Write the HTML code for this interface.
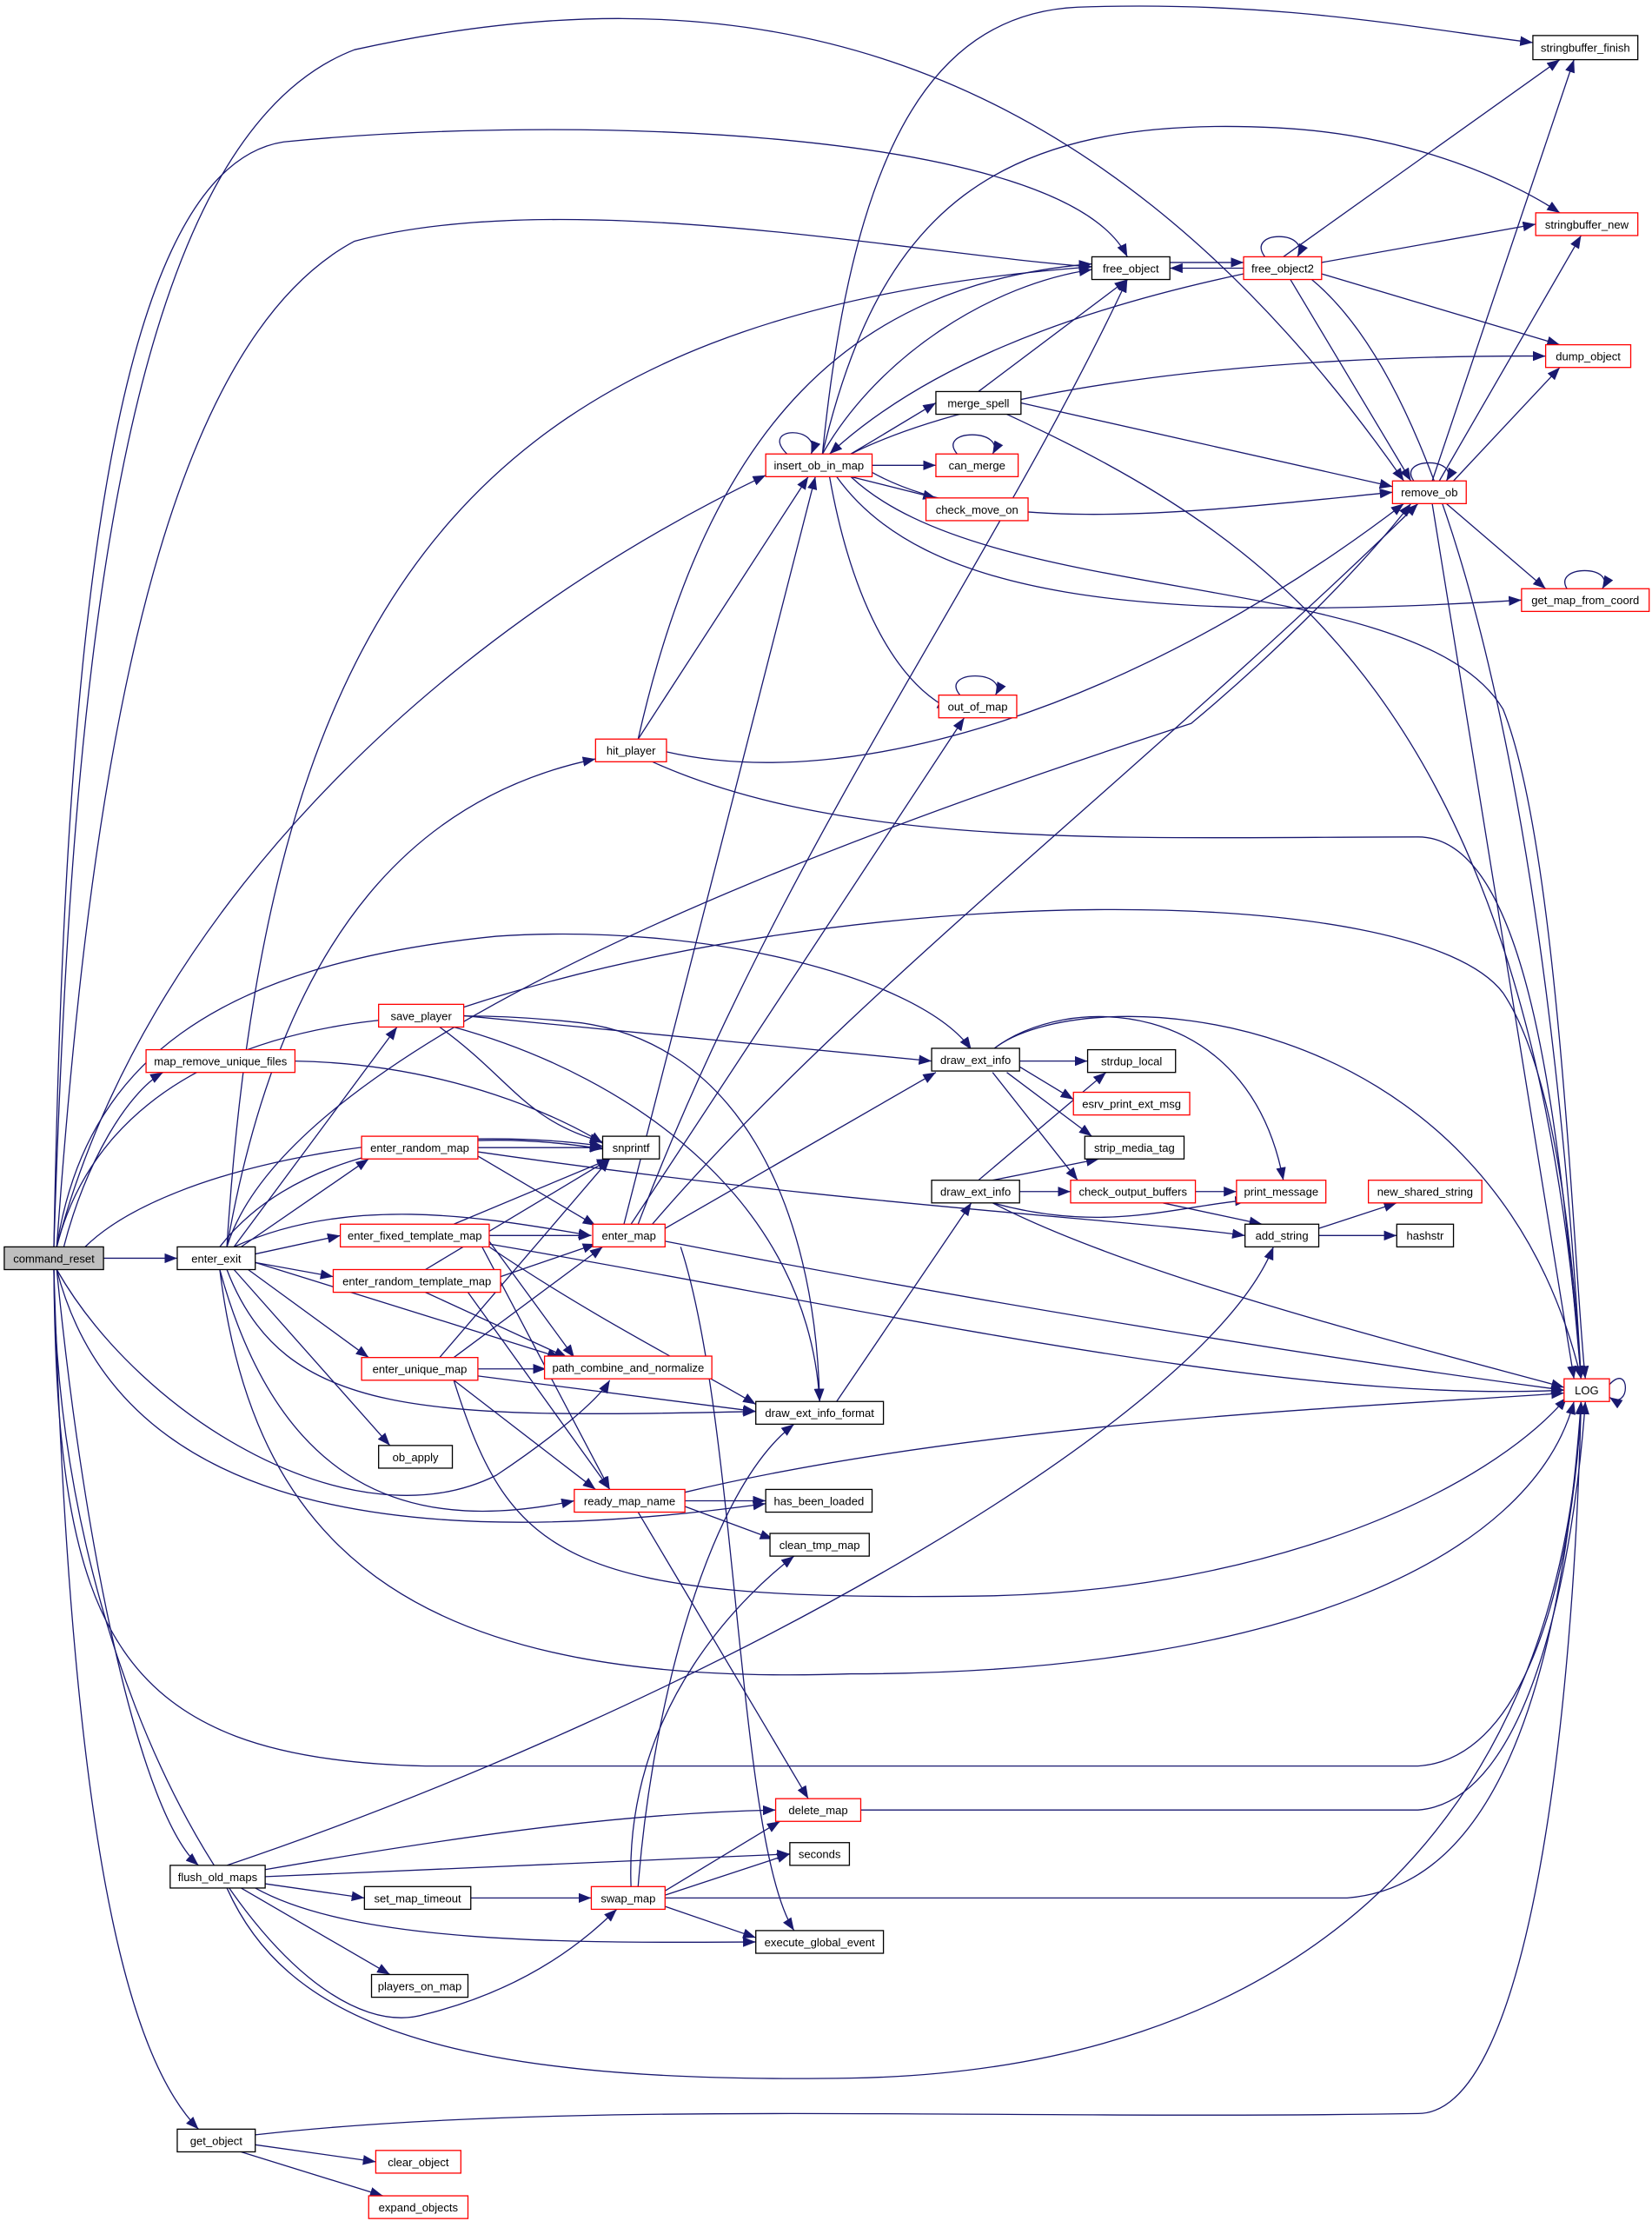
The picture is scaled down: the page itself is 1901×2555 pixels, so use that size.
<!DOCTYPE html>
<html><head><meta charset="utf-8"><style>
html,body{margin:0;padding:0;background:#fff;}
svg{display:block;}
text{font-family:"Liberation Sans",sans-serif;font-size:8px;fill:#000;text-anchor:middle;}
.e{fill:none;stroke:#191970;stroke-width:0.8;marker-end:url(#a);}
.n{fill:#fff;stroke:#000;stroke-width:0.8;}
.r{fill:#fff;stroke:#ff0000;stroke-width:0.8;}
</style></head><body>
<svg width="1901" height="2555" viewBox="0 0 1165 1565.7" xmlns="http://www.w3.org/2000/svg">
<defs><marker id="a" markerUnits="userSpaceOnUse" markerWidth="9" markerHeight="7" refX="9" refY="3.5" orient="auto"><path d="M0,0 L9,3.5 L0,7 z" fill="#191970"/></marker></defs>
<g>
<path class="e" d="M73,887 L125,887"/>
<path class="e" d="M45,879 C60,820 90,770 115,756"/>
<path class="e" d="M38,879 C50,500 80,100 250,35 C500,-20 760,10 990,339"/>
<path class="e" d="M38,879 C45,500 70,120 200,100 C400,80 750,90 795,181"/>
<path class="e" d="M40,879 C60,600 100,250 250,170 C400,130 650,180 770,188"/>
<path class="e" d="M40,879 C100,650 300,450 540,335"/>
<path class="e" d="M40,879 C60,750 150,680 350,660 C500,650 650,690 685,740"/>
<path class="e" d="M40,879 C70,760 200,700 400,720 C520,730 575,850 578,988"/>
<path class="e" d="M60,879 C120,820 300,790 425,808"/>
<path class="e" d="M40,895 C100,1000 250,1090 350,1040 C380,1020 420,990 430,973"/>
<path class="e" d="M40,895 C80,1050 250,1100 540,1060"/>
<path class="e" d="M38,895 C40,1150 80,1240 300,1245 L1000,1245 C1080,1240 1110,1100 1115,988"/>
<path class="e" d="M40,895 C60,1100 100,1280 140,1315"/>
<path class="e" d="M38,895 C40,1200 200,1450 300,1420 C380,1400 420,1360 435,1346"/>
<path class="e" d="M38,895 C50,1300 90,1450 140,1501"/>

<path class="e" d="M160,879 C200,650 300,560 420,535"/>
<path class="e" d="M160,879 C190,400 350,220 770,188"/>
<path class="e" d="M160,879 C200,750 500,620 840,510 C900,460 960,400 995,355"/>
<path class="e" d="M165,879 L280,724"/>
<path class="e" d="M155,879 C200,820 300,790 425,810"/>
<path class="e" d="M170,879 L260,817"/>
<path class="e" d="M180,884 L240,871"/>
<path class="e" d="M180,890 L235,900"/>
<path class="e" d="M165,879 C250,840 350,860 417,871"/>
<path class="e" d="M175,895 L260,957"/>
<path class="e" d="M180,890 L395,957"/>
<path class="e" d="M165,895 L275,1019"/>
<path class="e" d="M160,895 C200,1000 300,1000 533,995"/>
<path class="e" d="M155,895 C200,1060 300,1080 405,1058"/>
<path class="e" d="M155,895 C180,1100 300,1190 600,1180 C900,1180 1080,1100 1110,988"/>

<path class="e" d="M208,748 C320,750 400,790 425,806"/>

<path class="e" d="M450,521 L570,336"/>
<path class="e" d="M450,521 C500,300 600,200 770,186"/>
<path class="e" d="M470,530 C600,560 800,500 990,355"/>
<path class="e" d="M460,537 C600,600 800,590 1000,590 C1080,590 1100,800 1115,972"/>

<path class="e" d="M327,716 L657,748"/>
<path class="e" d="M310,724 C360,760 370,790 425,805"/>
<path class="e" d="M327,710 C600,620 1000,620 1060,700 C1100,760 1110,900 1115,972"/>
<path class="e" d="M320,724 C450,760 570,850 578,988"/>

<path class="e" d="M337,809 L425,809"/>
<path class="e" d="M337,815 L420,864"/>
<path class="e" d="M337,812 C600,850 800,860 878,871"/>

<path class="e" d="M320,863 L430,817"/>
<path class="e" d="M345,871 L417,871"/>
<path class="e" d="M345,875 L405,957"/>
<path class="e" d="M340,879 L430,1050"/>
<path class="e" d="M345,879 C420,930 500,970 533,990"/>
<path class="e" d="M345,877 C600,920 900,990 1103,980"/>

<path class="e" d="M353,900 L420,877"/>
<path class="e" d="M300,911 L400,957"/>
<path class="e" d="M330,911 L430,1050"/>
<path class="e" d="M300,895 L430,817"/>

<path class="e" d="M310,957 L430,817"/>
<path class="e" d="M320,957 L425,879"/>
<path class="e" d="M337,965 L385,965"/>
<path class="e" d="M337,970 L533,995"/>
<path class="e" d="M320,973 L420,1050"/>
<path class="e" d="M320,973 C360,1100 400,1130 700,1125 C900,1120 1050,1050 1105,985"/>

<path class="e" d="M440,863 L575,336"/>
<path class="e" d="M450,863 C550,600 700,400 795,197"/>
<path class="e" d="M460,863 C600,700 800,550 1000,355"/>
<path class="e" d="M445,863 L680,506"/>
<path class="e" d="M469,866 L660,756"/>
<path class="e" d="M469,875 C700,920 950,960 1103,980"/>
<path class="e" d="M480,879 C520,1000 520,1300 560,1361"/>

<path class="e" d="M483,1058 L540,1058"/>
<path class="e" d="M483,1062 L545,1085"/>
<path class="e" d="M450,1066 L570,1268"/>
<path class="e" d="M483,1052 C700,1000 1000,990 1103,982"/>

<path class="e" d="M590,988 L685,848"/>

<path class="e" d="M160,1315 C500,1200 850,1000 898,879"/>
<path class="e" d="M187,1318 C350,1290 450,1278 547,1276"/>
<path class="e" d="M187,1323 L557,1307"/>
<path class="e" d="M187,1328 L257,1338"/>
<path class="e" d="M180,1331 C250,1370 400,1370 533,1369"/>
<path class="e" d="M170,1331 L275,1392"/>
<path class="e" d="M160,1331 C200,1420 300,1470 600,1465 C900,1460 1100,1300 1115,988"/>

<path class="e" d="M332,1338 L417,1338"/>
<path class="e" d="M469,1333 L550,1284"/>
<path class="e" d="M469,1336 L557,1307"/>
<path class="e" d="M469,1344 L533,1366"/>
<path class="e" d="M469,1338 L950,1338 C1050,1330 1100,1200 1115,988"/>
<path class="e" d="M450,1330 C460,1200 500,1050 560,1004"/>
<path class="e" d="M445,1330 C440,1200 530,1120 560,1097"/>

<path class="e" d="M180,1505 C400,1480 700,1495 1000,1490 C1080,1490 1110,1200 1115,988"/>
<path class="e" d="M180,1512 L265,1524"/>
<path class="e" d="M170,1517 L270,1548"/>

<path class="e" d="M555,320 C535,300 580,300 572,320"/>
<path class="e" d="M600,320 L660,284"/>
<path class="e" d="M615,328 L660,328"/>
<path class="e" d="M600,336 L660,351"/>
<path class="e" d="M585,336 C600,420 630,480 670,500"/>
<path class="e" d="M615,333 C700,380 850,360 982,347"/>
<path class="e" d="M590,336 C650,420 800,440 1073,423"/>
<path class="e" d="M600,336 C700,430 1000,400 1060,500 C1100,600 1110,900 1118,972"/>
<path class="e" d="M580,320 C620,250 700,200 770,190"/>
<path class="e" d="M580,320 C620,150 700,80 900,90 C1000,95 1070,130 1100,150"/>
<path class="e" d="M600,320 C700,270 900,250 1090,251"/>
<path class="e" d="M580,320 C600,120 650,10 760,5 C900,0 1000,20 1081,30"/>

<path class="e" d="M877,189 L825,189"/>
<path class="e" d="M825,185 L877,185"/>
<path class="e" d="M892,181 C878,162 925,162 915,181"/>
<path class="e" d="M905,181 L1100,42"/>
<path class="e" d="M932,185 L1083,158"/>
<path class="e" d="M932,193 L1100,243"/>
<path class="e" d="M910,197 L995,339"/>
<path class="e" d="M925,197 C1050,300 1100,700 1115,972"/>
<path class="e" d="M877,193 C750,220 650,260 585,320"/>

<path class="e" d="M690,276 L795,197"/>
<path class="e" d="M720,284 L982,343"/>
<path class="e" d="M710,292 C900,380 1080,500 1115,972"/>
<path class="e" d="M675,320 C660,302 710,302 700,320"/>
<path class="e" d="M677,490 C662,472 712,472 702,490"/>

<path class="e" d="M997,339 C985,322 1030,322 1020,339"/>
<path class="e" d="M1010,339 L1110,42"/>
<path class="e" d="M1015,339 L1115,166"/>
<path class="e" d="M1025,339 L1100,259"/>
<path class="e" d="M1020,355 L1090,415"/>
<path class="e" d="M1010,355 L1110,972"/>
<path class="e" d="M1105,415 C1095,398 1140,398 1130,415"/>
<path class="e" d="M1135,976 C1150,960 1150,995 1135,985"/>

<path class="e" d="M719,748 L767,748"/>
<path class="e" d="M719,752 L757,775"/>
<path class="e" d="M710,756 L770,801"/>
<path class="e" d="M700,756 L760,832"/>
<path class="e" d="M700,740 C750,700 880,700 905,832"/>
<path class="e" d="M700,740 C760,690 1050,700 1115,972"/>

<path class="e" d="M690,832 L780,756"/>
<path class="e" d="M700,832 L775,817"/>
<path class="e" d="M719,840 L755,840"/>
<path class="e" d="M700,848 C780,870 830,850 880,846"/>
<path class="e" d="M700,848 C800,900 1000,950 1103,978"/>

<path class="e" d="M843,840 L872,840"/>
<path class="e" d="M820,848 L890,863"/>
<path class="e" d="M930,866 L985,848"/>
<path class="e" d="M930,871 L985,871"/>
<path class="e" d="M607,1276 L1000,1276 C1080,1270 1110,1100 1118,988"/>
</g>
<g>
<rect x="3" y="879" width="70" height="16" fill="#bfbfbf" stroke="#000" stroke-width="0.8"/><text x="38" y="890">command_reset</text>
<rect class="n" x="125" y="879" width="55" height="16"/><text x="152.5" y="890">enter_exit</text>
<rect class="r" x="103" y="740" width="105" height="16"/><text x="155.5" y="751">map_remove_unique_files</text>
<rect class="n" x="120" y="1315" width="67" height="16"/><text x="153.5" y="1326">flush_old_maps</text>
<rect class="n" x="125" y="1501" width="55" height="16"/><text x="152.5" y="1512">get_object</text>
<rect class="r" x="420" y="521" width="50" height="16"/><text x="445" y="532">hit_player</text>
<rect class="r" x="267" y="708" width="60" height="16"/><text x="297" y="719">save_player</text>
<rect class="r" x="255" y="801" width="82" height="16"/><text x="296" y="812">enter_random_map</text>
<rect class="r" x="240" y="863" width="105" height="16"/><text x="292.5" y="874">enter_fixed_template_map</text>
<rect class="r" x="235" y="895" width="118" height="16"/><text x="294" y="906">enter_random_template_map</text>
<rect class="r" x="255" y="957" width="82" height="16"/><text x="296" y="968">enter_unique_map</text>
<rect class="n" x="267" y="1019" width="52" height="16"/><text x="293" y="1030">ob_apply</text>
<rect class="n" x="425" y="801" width="40" height="16"/><text x="445" y="812">snprintf</text>
<rect class="r" x="418" y="863" width="51" height="16"/><text x="443.5" y="874">enter_map</text>
<rect class="r" x="384" y="956" width="118" height="16"/><text x="443" y="967">path_combine_and_normalize</text>
<rect class="n" x="533" y="988" width="90" height="16"/><text x="578" y="999">draw_ext_info_format</text>
<rect class="r" x="405" y="1050" width="78" height="16"/><text x="444" y="1061">ready_map_name</text>
<rect class="n" x="540" y="1050" width="75" height="16"/><text x="577.5" y="1061">has_been_loaded</text>
<rect class="n" x="543" y="1081" width="70" height="16"/><text x="578" y="1092">clean_tmp_map</text>
<rect class="r" x="547" y="1268" width="60" height="16"/><text x="577" y="1279">delete_map</text>
<rect class="n" x="557" y="1299" width="42" height="16"/><text x="578" y="1310">seconds</text>
<rect class="n" x="257" y="1330" width="75" height="16"/><text x="294.5" y="1341">set_map_timeout</text>
<rect class="r" x="417" y="1330" width="52" height="16"/><text x="443" y="1341">swap_map</text>
<rect class="n" x="533" y="1361" width="90" height="16"/><text x="578" y="1372">execute_global_event</text>
<rect class="n" x="262" y="1392" width="68" height="16"/><text x="296" y="1403">players_on_map</text>
<rect class="r" x="265" y="1516" width="60" height="16"/><text x="295" y="1527">clear_object</text>
<rect class="r" x="260" y="1548" width="70" height="16"/><text x="295" y="1559">expand_objects</text>
<rect class="r" x="540" y="320" width="75" height="16"/><text x="577.5" y="331">insert_ob_in_map</text>
<rect class="n" x="770" y="181" width="55" height="16"/><text x="797.5" y="192">free_object</text>
<rect class="n" x="660" y="276" width="60" height="16"/><text x="690" y="287">merge_spell</text>
<rect class="r" x="660" y="320" width="58" height="16"/><text x="689" y="331">can_merge</text>
<rect class="r" x="653" y="351" width="72" height="16"/><text x="689" y="362">check_move_on</text>
<rect class="r" x="662" y="490" width="55" height="16"/><text x="689.5" y="501">out_of_map</text>
<rect class="n" x="657" y="739" width="62" height="16"/><text x="688" y="750">draw_ext_info</text>
<rect class="n" x="657" y="832" width="62" height="16"/><text x="688" y="843">draw_ext_info</text>
<rect class="n" x="767" y="740" width="62" height="16"/><text x="798" y="751">strdup_local</text>
<rect class="r" x="757" y="770" width="82" height="16"/><text x="798" y="781">esrv_print_ext_msg</text>
<rect class="n" x="765" y="801" width="70" height="16"/><text x="800" y="812">strip_media_tag</text>
<rect class="r" x="755" y="832" width="88" height="16"/><text x="799" y="843">check_output_buffers</text>
<rect class="r" x="872" y="832" width="63" height="16"/><text x="903.5" y="843">print_message</text>
<rect class="n" x="878" y="863" width="52" height="16"/><text x="904" y="874">add_string</text>
<rect class="r" x="965" y="832" width="80" height="16"/><text x="1005" y="843">new_shared_string</text>
<rect class="n" x="985" y="863" width="40" height="16"/><text x="1005" y="874">hashstr</text>
<rect class="r" x="877" y="181" width="55" height="16"/><text x="904.5" y="192">free_object2</text>
<rect class="r" x="982" y="339" width="52" height="16"/><text x="1008" y="350">remove_ob</text>
<rect class="n" x="1081" y="25" width="74" height="17"/><text x="1118" y="36.5">stringbuffer_finish</text>
<rect class="r" x="1083" y="150" width="72" height="16"/><text x="1119" y="161">stringbuffer_new</text>
<rect class="r" x="1090" y="243" width="60" height="16"/><text x="1120" y="254">dump_object</text>
<rect class="r" x="1073" y="415" width="90" height="16"/><text x="1118" y="426">get_map_from_coord</text>
<rect class="r" x="1103" y="972" width="32" height="16"/><text x="1119" y="983">LOG</text>
</g>
</svg>
</body></html>
